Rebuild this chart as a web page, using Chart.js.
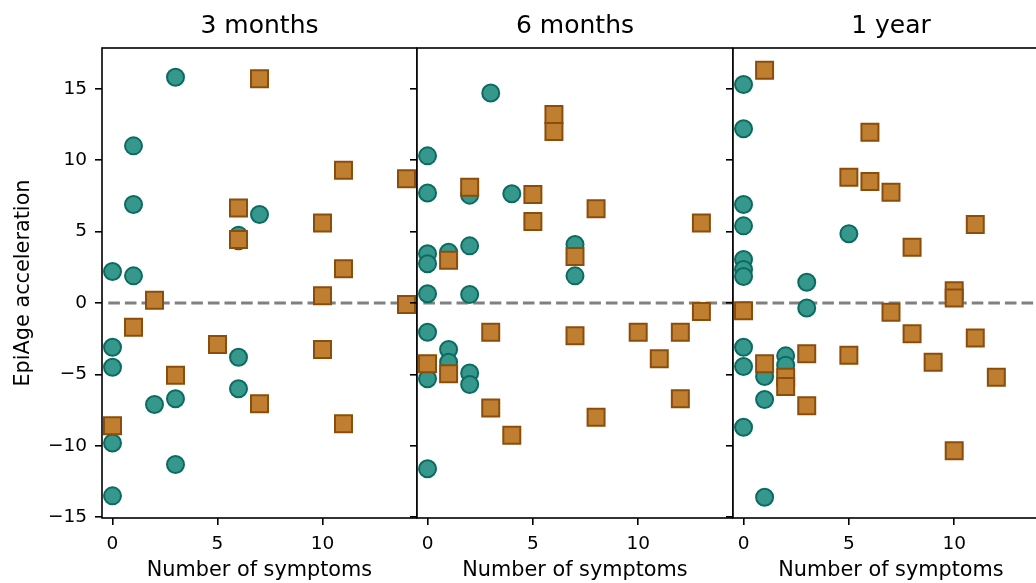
<!DOCTYPE html>
<html lang="en">
<head>
    <meta charset="UTF-8">
    <title>EpiAge acceleration vs number of symptoms</title>
    <script src="https://cdn.jsdelivr.net/npm/chart.js"></script>
    <style>
        body {
            margin: 0;
            background: #fff;
            overflow: hidden;
        }
        #wrap {
            position: relative;
            width: 1036px;
            height: 583px;
            overflow: hidden;
        }
        canvas {
            position: absolute;
            top: 0;
        }
    </style>
</head>
<body>
    <div id="wrap">
        <canvas id="p1" width="417" height="583" style="left:0px"></canvas>
        <canvas id="p2" width="336" height="583" style="left:397px"></canvas>
        <canvas id="p3" width="336" height="583" style="left:713px"></canvas>
    </div>

    <script>
        const panelTitles = ["3 months", "6 months", "1 year"];
        const xTicks = [0, 5, 10];
        const yTicks = [-15, -10, -5, 0, 5, 10, 15];
        const zeroLineX = [-0.2, 14.5];

        // 3 months
        const m3CircX = [3, 1, 1, 0, 1, 6, 6, 7, 0, 0, 2, 3, 6, 6, 0, 3, 0];
        const m3CircY = [15.8, 11.0, 6.9, 2.2, 1.9, 4.75, 4.35, 6.2, -3.1, -4.5, -7.1, -6.7, -3.8, -6.0, -9.8, -11.3, -13.5];
        const m3SqX = [7, 6, 6, 10, 11, 11, 10, 14, 2, 1, 5, 3, 7, 10, 11, 14, 0];
        const m3SqY = [15.7, 6.65, 4.45, 5.6, 9.3, 2.4, 0.5, 8.7, 0.2, -1.7, -2.9, -5.05, -7.05, -3.25, -8.45, -0.1, -8.6];

        // 6 months
        const m6CircX = [3, 0, 0, 2, 4, 0, 0, 1, 2, 7, 7, 0, 2, 0, 1, 1, 0, 2, 2, 0];
        const m6CircY = [14.7, 10.3, 7.7, 7.55, 7.65, 3.45, 2.75, 3.55, 4.0, 4.1, 1.9, 0.65, 0.6, -2.05, -3.25, -4.15, -5.3, -4.9, -5.7, -11.6];
        const m6SqX = [6, 6, 2, 5, 5, 8, 13, 1, 7, 13, 3, 0, 1, 3, 4, 8, 7, 10, 11, 12, 12];
        const m6SqY = [13.2, 12.0, 8.1, 7.6, 5.7, 6.6, 5.6, 3.0, 3.25, -0.6, -2.05, -4.25, -4.95, -7.35, -9.25, -8.0, -2.3, -2.05, -3.9, -2.05, -6.7];

        // 1 year
        const y1CircX = [0, 0, 0, 0, 0, 0, 0, 5, 3, 3, 0, 0, 1, 1, 0, 1, 2, 2];
        const y1CircY = [15.3, 12.2, 6.9, 5.4, 3.05, 2.35, 1.85, 4.85, 1.45, -0.35, -3.1, -4.45, -5.15, -6.75, -8.7, -13.6, -3.7, -4.35];
        const y1SqX = [1, 6, 5, 6, 7, 11, 8, 10, 10, 0, 7, 1, 2, 2, 3, 3, 5, 8, 9, 11, 12, 10];
        const y1SqY = [16.3, 11.95, 8.8, 8.5, 7.75, 5.5, 3.9, 0.85, 0.35, -0.55, -0.65, -4.25, -5.2, -5.85, -3.55, -7.2, -3.65, -2.15, -4.15, -2.45, -5.2, -10.35];

        const font = "'DejaVu Sans', sans-serif";

        function pts(xs, ys) {
            return xs.map((x, i) => ({ x: x, y: ys[i] }));
        }

        // box round the plot area, like matplotlib spines
        const frame = {
            id: "frame",
            afterDraw(chart) {
                const a = chart.chartArea;
                const ctx = chart.ctx;
                ctx.save();
                ctx.strokeStyle = "#000";
                ctx.lineWidth = 1.6;
                ctx.strokeRect(a.left, a.top, a.right - a.left, a.bottom - a.top);
                ctx.restore();
            }
        };

        function makePanel(id, title, cx, cy, sx, sy, first) {
            return new Chart(document.getElementById(id), {
                type: "scatter",
                data: {
                    datasets: [
                        {
                            data: pts(sx, sy),
                            pointStyle: "rect",
                            pointRadius: 12,
                            backgroundColor: "#c07f30",
                            borderColor: "#8a4d0b",
                            borderWidth: 2
                        },
                        {
                            data: pts(cx, cy),
                            pointStyle: "circle",
                            pointRadius: 8.5,
                            backgroundColor: "#36978d",
                            borderColor: "#0b6b61",
                            borderWidth: 2
                        },
                        {
                            type: "line",
                            data: zeroLineX.map(x => ({ x: x, y: 0 })),
                            borderColor: "#808080",
                            borderWidth: 3.1,
                            borderDash: [11.6, 5],
                            pointRadius: 0,
                            clip: 0
                        }
                    ]
                },
                options: {
                    responsive: false,
                    animation: false,
                    layout: { padding: 0, autoPadding: false },
                    plugins: {
                        legend: { display: false },
                        tooltip: { enabled: false },
                        title: {
                            display: true,
                            text: title,
                            fullSize: false,
                            color: "#000",
                            font: { family: font, size: 25, weight: "normal" },
                            padding: { top: 11, bottom: 7 }
                        }
                    },
                    scales: {
                        x: {
                            type: "linear",
                            min: -0.5,
                            max: 14.5,
                            afterBuildTicks: s => { s.ticks = xTicks.map(v => ({ value: v })); },
                            afterFit: s => {
                                s.height = 65;
                                s.paddingLeft = 0;
                                s.paddingRight = 0;
                            },
                            grid: { drawOnChartArea: false, tickLength: 7, color: "#000", lineWidth: 1.6 },
                            border: { display: false },
                            ticks: { color: "#000", padding: 8, font: { family: font, size: 18.5 } },
                            title: {
                                display: true,
                                text: "Number of symptoms",
                                color: "#000",
                                font: { family: font, size: 20.8 },
                                padding: 0
                            }
                        },
                        y: {
                            min: -15.05,
                            max: 17.85,
                            afterBuildTicks: s => { s.ticks = yTicks.map(v => ({ value: v })); },
                            afterFit: s => {
                                s.width = first ? 102 : 20;
                                s.paddingTop = 0;
                                s.paddingBottom = 0;
                            },
                            grid: { drawOnChartArea: false, tickLength: 7, color: "#000", lineWidth: 1.6 },
                            border: { display: false },
                            ticks: {
                                display: first,
                                color: "#000",
                                padding: 8,
                                font: { family: font, size: 18.5 },
                                callback: v => v < 0 ? "\u2212" + Math.abs(v) : String(v)
                            },
                            title: {
                                display: first,
                                text: "EpiAge acceleration",
                                color: "#000",
                                font: { family: font, size: 20.8 },
                                padding: { top: 11, bottom: 0 }
                            }
                        }
                    }
                },
                plugins: [frame]
            });
        }

        makePanel("p1", panelTitles[0], m3CircX, m3CircY, m3SqX, m3SqY, true);
        makePanel("p2", panelTitles[1], m6CircX, m6CircY, m6SqX, m6SqY, false);
        makePanel("p3", panelTitles[2], y1CircX, y1CircY, y1SqX, y1SqY, false);
    </script>
</body>
</html>
